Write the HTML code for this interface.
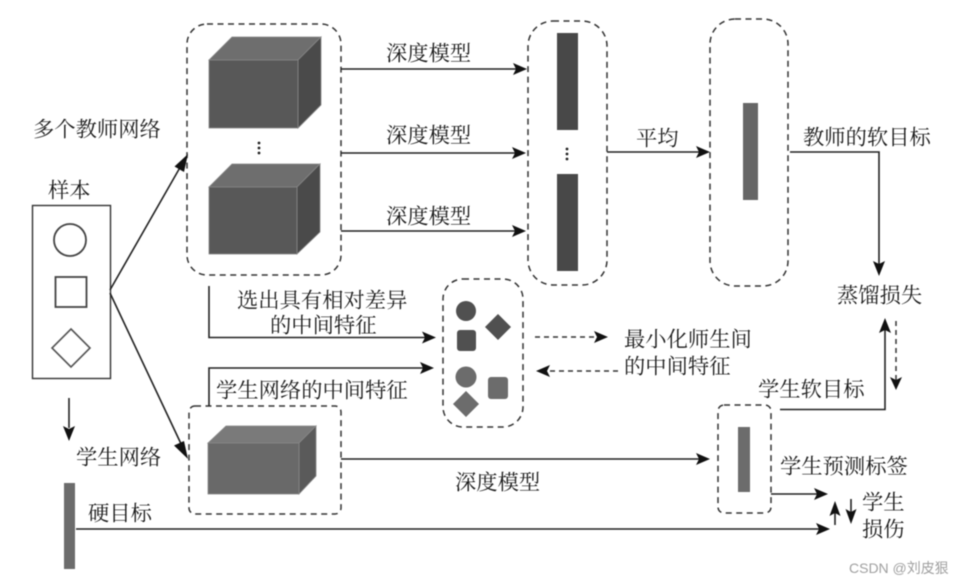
<!DOCTYPE html>
<html><head><meta charset="utf-8"><style>
html,body{margin:0;padding:0;background:#fff;width:964px;height:585px;overflow:hidden}
svg{display:block;filter:blur(.6px)}
text{font-family:"Liberation Serif","Noto Serif CJK SC",serif;font-size:21.3px;fill:#1c1c1c}
.d{fill:none;stroke:#333;stroke-width:1.5;stroke-dasharray:6 4.5}
.l{fill:none;stroke:#222;stroke-width:1.6}
.a{fill:#111}
.f{fill:none;stroke:#333;stroke-width:1.5;stroke-dasharray:5 4}
</style></head><body>
<svg width="964" height="585" viewBox="0 0 964 585" xmlns="http://www.w3.org/2000/svg">
<rect width="964" height="585" fill="#fff"/>
<!-- dashed containers -->
<rect class="d" x="187" y="24" width="154" height="251" rx="20"/>
<rect class="d" x="528" y="21" width="79" height="264" rx="25"/>
<rect class="d" x="710" y="19" width="78" height="267" rx="25"/>
<rect class="d" x="443" y="279" width="80" height="148" rx="20"/>
<rect class="d" x="189" y="406" width="152" height="108" rx="6"/>
<rect class="d" x="718" y="405" width="53" height="108" rx="6"/>
<!-- cubes -->
<g stroke="#888" stroke-width=".8">
<polygon points="209,60 232,37 321,37 298,60" fill="#6e6e6e"/>
<polygon points="298,60 321,37 321,105 298,128" fill="#4a4a4a"/>
<rect x="209" y="60" width="89" height="68" fill="#585858"/>
<polygon points="209,187 232,164 320,164 297,187" fill="#6e6e6e"/>
<polygon points="297,187 320,164 320,232 297,254" fill="#4a4a4a"/>
<rect x="209" y="187" width="88" height="67" fill="#585858"/>
<polygon points="208,443 226,426 316,426 299,443" fill="#7a7a7a"/>
<polygon points="299,443 316,426 316,476 299,494" fill="#5a5a5a"/>
<rect x="208" y="443" width="91" height="51" fill="#696969"/>
</g>
<!-- dots -->
<g fill="#222">
<circle cx="259" cy="143" r="1.4"/><circle cx="259" cy="148" r="1.4"/><circle cx="259" cy="153" r="1.4"/>
<circle cx="567" cy="149" r="1.4"/><circle cx="567" cy="154" r="1.4"/><circle cx="567" cy="159" r="1.4"/>
</g>
<!-- bars -->
<rect x="557" y="33" width="21" height="97" fill="#484848"/>
<rect x="557" y="174" width="21" height="97" fill="#484848"/>
<rect x="743" y="103" width="15" height="97" fill="#666"/>
<rect x="738" y="427" width="12" height="65" fill="#6c6c6c"/>
<rect x="64" y="483" width="11" height="86" fill="#6c6c6c"/>
<!-- sample box -->
<rect x="32.500" y="205.500" width="78" height="173" fill="none" stroke="#333" stroke-width="1.4"/>
<circle cx="70" cy="240" r="16" fill="none" stroke="#444" stroke-width="1.8"/>
<rect x="55.500" y="277" width="31" height="30" fill="none" stroke="#444" stroke-width="1.8"/>
<polygon points="71,329 90,348 71,367 52,348" fill="none" stroke="#555" stroke-width="1.6"/>
<!-- feature shapes -->
<circle cx="466" cy="311" r="10" fill="#505050"/>
<rect x="457" y="330" width="19" height="21" rx="3" fill="#505050"/>
<polygon points="498,314 511,327 498,340 485,327" fill="#505050"/>
<circle cx="466" cy="377" r="10.500" fill="#6c6c6c"/>
<rect x="488" y="377" width="20" height="22" rx="3" fill="#6c6c6c"/>
<polygon points="466,391 479,404 466,417 453,404" fill="#6c6c6c"/>
<!-- connectors -->
<path class="l" d="M110 290L182 164M110 293L183 448M69 398V428"/>
<path class="a" d="M188 154L184 172L174.500 166.500Z"/>
<path class="a" d="M188 459L174 445.500L184 441Z"/>
<path class="a" d="M69 441L63 426L69 429L75 426Z"/>
<path class="l" d="M341 69H518M341 153H518M341 231H518"/>
<path class="a" d="M527 69L513 63L516 69L513 75Z"/>
<path class="a" d="M526 153L512 147L515 153L512 159Z"/>
<path class="a" d="M526 231L512 225L515 231L512 237Z"/>
<path class="l" d="M607 152H702"/>
<path class="a" d="M710 152L696 146L699 152L696 158Z"/>
<path class="l" d="M790 152H879V268"/>
<path class="a" d="M879 276L873 261L879 264L885 261Z"/>
<path class="l" d="M209 286V337.500H432"/>
<path class="a" d="M436 337.500L422 331.500L425 337.500L422 343.500Z"/>
<path class="l" d="M209 406V368H428"/>
<path class="a" d="M434 368L420 362L423 368L420 374Z"/>
<path class="f" d="M535 337H600"/>
<path class="a" d="M608 337L594 331L597 337L594 343Z"/>
<path class="f" d="M618 371H545"/>
<path class="a" d="M536 371L550 365L547 371L550 377Z"/>
<path class="l" d="M780 409.500H885V326"/>
<path class="a" d="M885 318L879 333L885 330L891 333Z"/>
<path class="f" d="M896 321V385"/>
<path class="a" d="M896 390L890 377L896 380L902 377Z"/>
<path class="l" d="M341 459H702"/>
<path class="a" d="M710 459L696 453L699 459L696 465Z"/>
<path class="l" d="M771 494H820"/>
<path class="a" d="M828 494L814 488L817 494L814 500Z"/>
<path class="l" d="M76 529H822"/>
<path class="a" d="M830 529L816 523L819 529L816 535Z"/>
<path class="l" d="M835 525V508M851 499V518"/>
<path class="a" d="M835 501L829.500 516L835 513L840.500 516Z"/>
<path class="a" d="M851 524L845.500 509L851 512L856.500 509Z"/>
<!-- labels -->
<text x="33" y="136.500">多个教师网络</text>
<text x="48" y="197.500">样本</text>
<text x="76" y="464.500">学生网络</text>
<text x="88" y="520.500">硬目标</text>
<text x="386" y="60.500">深度模型</text>
<text x="386" y="142.500">深度模型</text>
<text x="386" y="223.500">深度模型</text>
<text x="636" y="145.500">平均</text>
<text x="803" y="144.500">教师的软目标</text>
<text x="837" y="302.500">蒸馏损失</text>
<text x="237" y="307.500">选出具有相对差异</text>
<text x="270" y="332.500">的中间特征</text>
<text x="216" y="397.500">学生网络的中间特征</text>
<text x="624" y="346.500">最小化师生间</text>
<text x="624" y="373.500">的中间特征</text>
<text x="758" y="396.500">学生软目标</text>
<text x="455" y="489.500">深度模型</text>
<text x="780" y="473.500">学生预测标签</text>
<text x="862" y="509.500">学生</text>
<text x="862" y="536.500">损伤</text>
<text x="849" y="573" style="font-family:'Liberation Sans','Noto Sans CJK SC',sans-serif;font-size:14px;fill:#a0a0a0">CSDN @刘皮狠</text>
</svg>
</body></html>
